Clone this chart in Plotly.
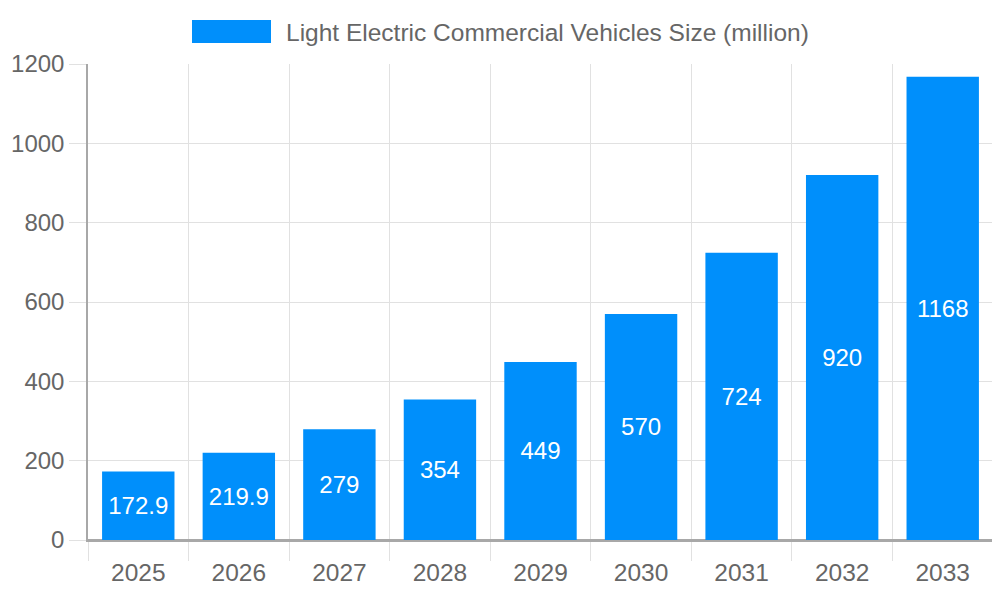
import plotly.graph_objects as go

# market size per year (million)
years = ["2025", "2026", "2027", "2028", "2029", "2030", "2031", "2032", "2033"]
market_size = [172.9, 219.9, 279, 354, 449, 570, 724, 920, 1168]
series_name = "Light Electric Commercial Vehicles Size (million)"

bar_color = "#008ffb"
text_color = "#666666"
grid_color = "#e1e1e1"

fig = go.Figure()
fig.add_trace(go.Bar(
    x=years, y=market_size, name=series_name,
    marker=dict(color=bar_color, line=dict(width=0)),
    text=[str(v) for v in market_size],
    textposition="inside", insidetextanchor="middle", textangle=0,
    constraintext="none",
    textfont=dict(family="Liberation Sans", size=24, color="white"),
    showlegend=False,
))

# the page body has an 8px margin, so everything is laid out 8px up/left
off = 8
W, H = 1000 - off, 600 - off
plot_l, plot_r, plot_t, plot_b = 88 - off, 993 - off, 64 - off, 540 - off

def px_x(p):
    return (p - off - plot_l) / (plot_r - plot_l)

def px_y(p):
    return (plot_b - (p - off)) / (plot_b - plot_t)

# legend drawn by hand so the swatch matches the wide box of the original
fig.add_shape(type="rect", xref="paper", yref="paper",
              x0=px_x(192), x1=px_x(271), y0=px_y(43), y1=px_y(20),
              fillcolor=bar_color, line=dict(width=0))
fig.add_annotation(text=series_name, xref="paper", yref="paper",
                   x=px_x(284), y=px_y(32), xanchor="left", yanchor="middle",
                   showarrow=False,
                   font=dict(family="Liberation Sans", size=24.5, color=text_color))

fig.update_layout(
    width=W, height=H,
    margin=dict(l=plot_l, r=W - plot_r, t=plot_t, b=H - plot_b),
    paper_bgcolor="white", plot_bgcolor="white",
    bargap=0.28,
    font=dict(family="Liberation Sans", size=24, color=text_color),
    xaxis=dict(
        type="category", tickson="boundaries", showgrid=True, gridcolor=grid_color,
        ticks="outside", ticklen=19, tickcolor=grid_color, tickwidth=1,
        ticklabelstandoff=10, automargin=False,
        showline=True, linecolor="#a8a8a8", linewidth=1.5,
        tickfont=dict(size=24.5, color=text_color),
    ),
    yaxis=dict(
        range=[0, 1200], dtick=200, showgrid=True, gridcolor=grid_color,
        ticks="outside", ticklen=17, tickcolor=grid_color, automargin=False,
        showline=True, linecolor="#a8a8a8", linewidth=1.5,
        zeroline=True, zerolinecolor="#a8a8a8", zerolinewidth=1.5,
        tickfont=dict(size=24, color=text_color),
    ),
)

fig.write_html("out.html")
